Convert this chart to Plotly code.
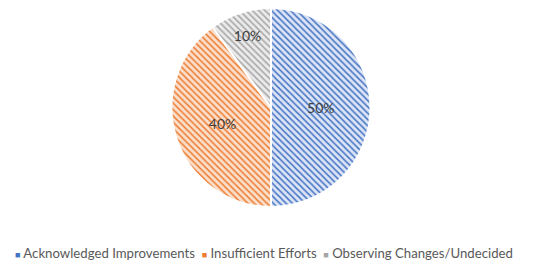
import plotly.graph_objects as go

# survey responses
labels = ["Acknowledged Improvements", "Insufficient Efforts", "Observing Changes/Undecided"]
values = [50, 40, 10]
colors = ["#4472C4", "#ED7D31", "#A5A5A5"]
light = ["#DCE5F5", "#FBDFCC", "#EBEBEB"]

fig = go.Figure()
fig.add_trace(go.Pie(
    labels=labels,
    values=values,
    sort=False,
    direction="clockwise",
    rotation=0,
    textinfo="percent",
    texttemplate="%{percent:.0%}",
    textposition="inside",
    insidetextorientation="horizontal",
    textfont=dict(family="Lato", size=14, color="#404040"),
    marker=dict(
        colors=light,
        line=dict(color="white", width=2),
        pattern=dict(shape="\\", fgcolor=colors, bgcolor=light, size=4.5, solidity=0.33),
    ),
    hoverinfo="label+percent",
    showlegend=False,
))

# legend written as one line of text, plotly's own legend wraps at this width
parts = []
for lab, c in zip(labels, colors):
    parts.append(f"<span style='color:{c};font-size:9px'>■</span> {lab}")
legend_text = "  ".join(parts)

fig.add_annotation(
    text=legend_text,
    xref="paper", yref="paper",
    x=0.487, y=-0.231,
    xanchor="center", yanchor="middle",
    showarrow=False,
    font=dict(family="Lato", size=13.2, color="#595959"),
)

# page body adds an 8px margin, so the figure is 8px smaller than the window
fig.update_layout(
    width=542,
    height=264,
    margin=dict(l=0, r=16, t=0, b=65),
    paper_bgcolor="white",
    plot_bgcolor="white",
)

fig.write_html("out.html")
